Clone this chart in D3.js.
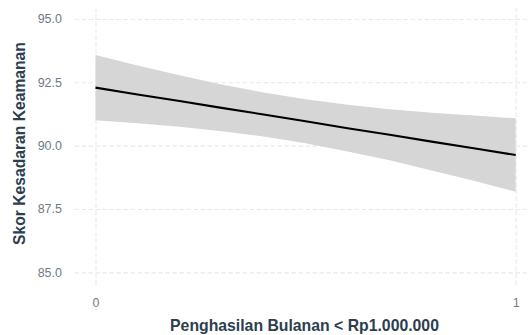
<!DOCTYPE html>
<html><head><meta charset="utf-8">
<script src="https://cdn.jsdelivr.net/npm/d3@7"></script>
<style>body{margin:0;background:#fff}svg{display:block}</style>
</head><body>
<svg id="c" width="529" height="335"></svg>
<script>
const xVals = [0, 0.1, 0.2, 0.3, 0.4, 0.5, 0.6, 0.7, 0.8, 0.9, 1];
const fitVals = [92.29, 92.02, 91.76, 91.49, 91.23, 90.96, 90.69, 90.43, 90.16, 89.90, 89.63];
const lowerVals = [91.00, 90.88, 90.75, 90.57, 90.36, 90.09, 89.77, 89.42, 89.02, 88.61, 88.18];
const upperVals = [93.58, 93.16, 92.78, 92.41, 92.10, 91.83, 91.61, 91.44, 91.30, 91.19, 91.08];
const yTicks = [85, 87.5, 90, 92.5, 95];
const xTicks = [0, 1];
const xTitle = "Penghasilan Bulanan < Rp1.000.000";
const yTitle = "Skor Kesadaran Keamanan";

const svg = d3.select("#c");
const pLeft = 74.5, pRight = 536.7, pTop = 6.3, pBottom = 285;
const x = d3.scaleLinear().domain([-0.05, 1.05]).range([pLeft, pRight]);
const y = d3.scaleLinear().domain([84.5, 95.5]).range([pBottom, pTop]);

const data = xVals.map((v, i) => ({x: v, fit: fitVals[i], lo: lowerVals[i], hi: upperVals[i]}));
const font = "Liberation Sans, Arial, sans-serif";

const gridColor = "#e9e9e9";
const gy = svg.append("g").attr("transform", `translate(${pLeft},0)`)
  .call(d3.axisLeft(y).tickValues(yTicks).tickSize(-(pRight - pLeft)).tickFormat(d3.format(".1f")));
const gx = svg.append("g").attr("transform", `translate(0,${pBottom})`)
  .call(d3.axisBottom(x).tickValues(xTicks).tickSize(-(pBottom - pTop)).tickFormat(d3.format("d")));
[gy, gx].forEach(g => {
  g.select(".domain").remove();
  g.selectAll(".tick line").attr("stroke", gridColor).attr("stroke-width", 1.1).attr("stroke-dasharray", "4.5,2.5");
  g.selectAll(".tick text").attr("fill", "#6f7b88").attr("font-family", font).attr("font-size", 12.5);
});
gy.selectAll(".tick text").attr("x", -12.5);
gx.selectAll(".tick text").attr("y", 13);

svg.append("path").datum(data)
  .attr("d", d3.area().x(d => x(d.x)).y0(d => y(d.lo)).y1(d => y(d.hi)))
  .attr("fill", "#d6d6d6");
svg.append("path").datum(data)
  .attr("d", d3.line().x(d => x(d.x)).y(d => y(d.fit)))
  .attr("fill", "none").attr("stroke", "#000").attr("stroke-width", 2.1);

function fit(sel, target) {
  const fs = +sel.attr("font-size");
  const w = sel.node().getComputedTextLength();
  if (w > 0) sel.attr("font-size", fs * target / w);
}
const xt = svg.append("text").attr("x", 304.5).attr("y", 331)
  .attr("text-anchor", "middle").attr("font-family", font)
  .attr("font-weight", "bold").attr("font-size", 13.5).attr("fill", "#2c3e50").text(xTitle);
fit(xt, 269);
const yt = svg.append("text").attr("transform", `translate(25,143.5) rotate(-90)`)
  .attr("text-anchor", "middle").attr("font-family", font)
  .attr("font-weight", "bold").attr("font-size", 13).attr("fill", "#2c3e50").text(yTitle);
fit(yt, 203);
</script>
</body></html>
